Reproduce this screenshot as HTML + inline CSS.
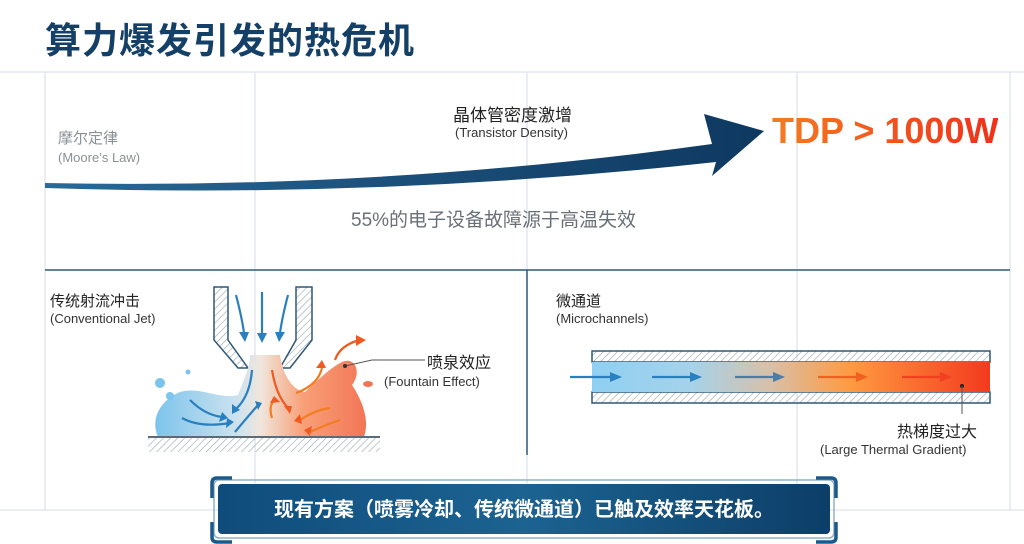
<!DOCTYPE html>
<html><head><meta charset="utf-8"><style>
html,body{margin:0;padding:0;background:#fff;}
body{width:1024px;height:544px;overflow:hidden;position:relative;font-family:"Liberation Sans","Noto Sans CJK SC",sans-serif;}
.t{position:absolute;white-space:nowrap;}
</style></head><body>
<svg width="1024" height="544" style="position:absolute;left:0;top:0">
<defs>
<pattern id="h" width="5" height="5" patternUnits="userSpaceOnUse" patternTransform="rotate(45)"><line x1="0" y1="0" x2="0" y2="5" stroke="#9aa4ad" stroke-width="1.2"/></pattern>
<linearGradient id="arr" x1="0" x2="1"><stop offset="0" stop-color="#2a6a96"/><stop offset="0.5" stop-color="#1b4f7a"/><stop offset="1" stop-color="#0e3860"/></linearGradient>
<linearGradient id="ch" x1="0" x2="1"><stop offset="0" stop-color="#8fd0f2"/><stop offset="0.25" stop-color="#a6d2ea"/><stop offset="0.45" stop-color="#d8c0a8"/><stop offset="0.65" stop-color="#ff9a40"/><stop offset="1" stop-color="#f33a1e"/></linearGradient>
<linearGradient id="spl" x1="0" x2="1"><stop offset="0" stop-color="#7cc4ec"/><stop offset="0.4" stop-color="#cfe3ee"/><stop offset="0.5" stop-color="#f0e6dc"/><stop offset="0.7" stop-color="#f8a078"/><stop offset="1" stop-color="#f27656"/></linearGradient>
<linearGradient id="btn" x1="0" x2="1"><stop offset="0" stop-color="#0f4c7c"/><stop offset="0.5" stop-color="#1c6391"/><stop offset="1" stop-color="#0c3e68"/></linearGradient>
</defs>
<g stroke="#d5dee6" stroke-width="1">
<line x1="0" y1="72" x2="1024" y2="72"/>
<line x1="0" y1="510" x2="1024" y2="510"/>
<line x1="45" y1="72" x2="45" y2="510"/>
<line x1="255" y1="72" x2="255" y2="510"/>
<line x1="527" y1="72" x2="527" y2="510"/>
<line x1="797" y1="72" x2="797" y2="510"/>
<line x1="1010" y1="72" x2="1010" y2="510"/>
</g>
<line x1="45" y1="270" x2="1010" y2="270" stroke="#2d5878" stroke-width="1.5"/>
<line x1="527" y1="270" x2="527" y2="455" stroke="#2d5878" stroke-width="1.5"/>
<path d="M45,183 Q380,190 712,144 L704,114 L764,131 L712,176 L716,162 Q380,199 45,188 Z" fill="url(#arr)"/>
<path d="M214,287 L214,340 L238,368 L248,368 L228,340 L228,287 Z" fill="url(#h)" stroke="#2d5878" stroke-width="1.5"/>
<path d="M312,287 L312,340 L290,368 L280,368 L296,340 L296,287 Z" fill="url(#h)" stroke="#2d5878" stroke-width="1.5"/>
<path d="M158,437 C150,420 160,400 180,392 C200,386 220,400 238,395 C246,375 250,365 250,355 L280,355 C282,370 290,390 305,392 C318,380 330,368 342,362 C355,356 362,372 352,385 C362,400 370,420 364,437 Z" fill="url(#spl)"/>
<circle cx="160" cy="383" r="5" fill="#7cc4ec"/><circle cx="170" cy="396" r="4" fill="#7cc4ec"/><circle cx="188" cy="372" r="2.5" fill="#7cc4ec"/><ellipse cx="368" cy="384" rx="5" ry="3" fill="#f27656"/>
<g fill="none" stroke-width="2.2">
<path d="M236,295 Q242,318 244,333" stroke="#2a7fbe"/><path d="M262,292 L262,335" stroke="#2a7fbe"/><path d="M288,295 Q282,318 280,333" stroke="#2a7fbe"/>
<path d="M190,400 Q205,415 222,417" stroke="#2a7fbe"/><path d="M182,418 Q200,428 230,423" stroke="#2a7fbe"/>
<path d="M252,370 Q250,395 237,408" stroke="#2a7fbe"/><path d="M235,432 Q245,420 258,405" stroke="#2a7fbe"/>
<path d="M272,370 Q276,395 288,408" stroke="#f05a20"/><path d="M272,418 Q268,405 275,400" stroke="#f47c20"/>
<path d="M300,420 Q315,410 330,408" stroke="#f47c20"/><path d="M310,432 Q325,425 340,420" stroke="#f47c20"/>
<path d="M296,393 Q318,385 322,368" stroke="#f47c20"/><path d="M335,360 Q340,345 360,340" stroke="#f05a20"/>
</g>
<g fill="#2a7fbe"><path d="M239,332 L249,332 L245,342Z"/><path d="M257,333 L267,333 L262,343Z"/><path d="M275,332 L285,332 L279,342Z"/><path d="M222,412 L228,418 L219,422Z"/><path d="M227,418 L234,422 L226,428Z"/><path d="M232,404 L240,410 L232,414Z"/><path d="M255,401 L262,403 L258,410Z"/></g>
<g fill="#f05a20"><path d="M284,406 L292,406 L290,414Z"/><path d="M270,403 L280,402 L274,396Z"/><path d="M300,414 L302,424 L294,421Z"/><path d="M312,426 L310,436 L304,430Z"/><path d="M316,368 L326,368 L322,360Z"/><path d="M356,335 L366,340 L356,346Z"/></g>
<rect x="148" y="437" width="232" height="15" fill="url(#h)"/>
<line x1="148" y1="437" x2="380" y2="437" stroke="#5b6b78" stroke-width="2"/>
<polyline points="345,366 372,360 425,360" fill="none" stroke="#555" stroke-width="1"/><circle cx="345" cy="366" r="2" fill="#333"/>
<rect x="592" y="351" width="398" height="11" fill="url(#h)" stroke="#2d5878" stroke-width="1.5"/>
<rect x="592" y="392" width="398" height="11" fill="url(#h)" stroke="#2d5878" stroke-width="1.5"/>
<rect x="592" y="362" width="398" height="30" fill="url(#ch)"/>
<g stroke-width="2.2">
<line x1="570" y1="377" x2="612" y2="377" stroke="#2a7fbe"/><line x1="652" y1="377" x2="692" y2="377" stroke="#2a7fbe"/><line x1="735" y1="377" x2="775" y2="377" stroke="#4a7ea8"/><line x1="818" y1="377" x2="858" y2="377" stroke="#f06020"/><line x1="902" y1="377" x2="942" y2="377" stroke="#f04020"/>
</g>
<path d="M610,372 L622,377 L610,382Z" fill="#2a7fbe"/><path d="M690,372 L702,377 L690,382Z" fill="#2a7fbe"/><path d="M773,372 L785,377 L773,382Z" fill="#4a7ea8"/><path d="M856,372 L868,377 L856,382Z" fill="#f06020"/><path d="M940,372 L952,377 L940,382Z" fill="#f04020"/>
<circle cx="962" cy="386" r="2" fill="#222"/><line x1="962" y1="386" x2="962" y2="414" stroke="#555" stroke-width="1"/>
<rect x="214" y="480" width="620" height="58" rx="5" fill="none" stroke="#8fb0c8" stroke-width="1.5"/>
<path d="M212,498 L212,483 Q212,478 217,478 L232,478 M816,478 L831,478 Q836,478 836,483 L836,498 M836,522 L836,537 Q836,542 831,542 L816,542 M232,542 L217,542 Q212,542 212,537 L212,522" fill="none" stroke="#1b5a8a" stroke-width="3.5"/>
<rect x="218" y="484" width="612" height="50" rx="4" fill="url(#btn)"/>
</svg>
<div class="t" style="left:45px;top:12px;font-size:36px;font-weight:bold;color:#143f66;letter-spacing:1px">算力爆发引发的热危机</div>
<div class="t" style="left:58px;top:127px;font-size:15px;color:#8a9096">摩尔定律</div>
<div class="t" style="left:58px;top:150px;font-size:13px;color:#8a9096">(Moore’s Law)</div>
<div class="t" style="left:453px;top:101px;font-size:17px;color:#222">晶体管密度激增</div>
<div class="t" style="left:455px;top:125px;font-size:13px;color:#333">(Transistor Density)</div>
<div class="t" style="left:772px;top:110px;font-size:36px;font-weight:bold;background:linear-gradient(90deg,#f47c20,#f0301a);-webkit-background-clip:text;color:transparent">TDP &gt; 1000W</div>
<div class="t" style="left:351px;top:205px;font-size:19px;color:#6a7078">55%的电子设备故障源于高温失效</div>
<div class="t" style="left:50px;top:290px;font-size:15px;color:#222">传统射流冲击</div>
<div class="t" style="left:50px;top:311px;font-size:13px;color:#333">(Conventional Jet)</div>
<div class="t" style="left:427px;top:349px;font-size:16px;color:#222">喷泉效应</div>
<div class="t" style="left:384px;top:374px;font-size:13px;color:#333">(Fountain Effect)</div>
<div class="t" style="left:556px;top:290px;font-size:15px;color:#222">微通道</div>
<div class="t" style="left:556px;top:311px;font-size:13px;color:#333">(Microchannels)</div>
<div class="t" style="left:897px;top:418px;font-size:16px;color:#222">热梯度过大</div>
<div class="t" style="left:820px;top:442px;font-size:13px;color:#333">(Large Thermal Gradient)</div>
<div class="t" style="left:218px;top:493px;width:612px;text-align:center;font-size:20px;font-weight:bold;color:#fff">现有方案（喷雾冷却、传统微通道）已触及效率天花板。</div>
</body></html>
